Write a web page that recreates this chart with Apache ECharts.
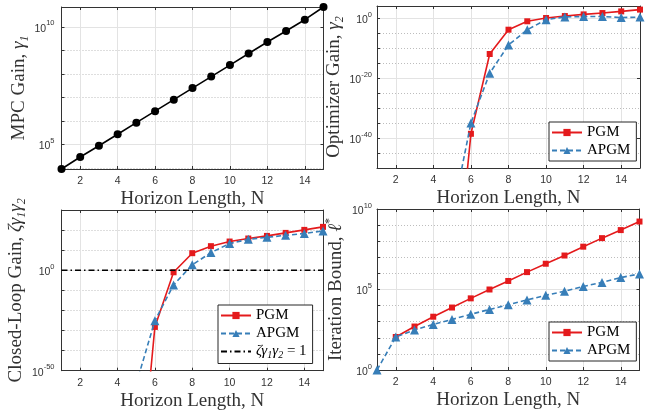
<!DOCTYPE html>
<html><head><meta charset="utf-8">
<script src="https://cdn.jsdelivr.net/npm/echarts@6/dist/echarts.min.js"></script>
<style>html,body{margin:0;padding:0;background:#fff}#c{width:665px;height:417px}</style>
</head><body><div id="c"></div>
<script>
// ---- data (log10 of the plotted quantities) ----
const horizon = [1, 2, 3, 4, 5, 6, 7, 8, 9, 10, 11, 12, 13, 14, 15];
const xTickValues = [2, 4, 6, 8, 10, 12, 14];

const mpcGainLog10 = [3.95, 4.46, 4.94, 5.43, 5.92, 6.41, 6.90, 7.39, 7.88, 8.37, 8.86, 9.35, 9.82, 10.30, 10.84];

const optGainPGMLog10  = [null, null, null, null, -102, -38.6, -12.0, -3.9, -1.1, 0.0, 0.65, 1.2, 1.65, 2.2, 2.8];
const optGainAPGMLog10 = [null, null, null, null, -66, -35.0, -18.4, -9.0, -3.9, -0.55, 0.35, 0.5, 0.5, 0.15, 0.3];

const clGainPGMLog10  = [null, null, null, null, -127, -28.2, -1.0, 8.5, 12.0, 14.3, 15.8, 17.1, 18.6, 20.1, 21.6];
const clGainAPGMLog10 = [null, null, null, null, -56.6, -25.1, -7.3, 2.7, 8.8, 13.3, 15.4, 16.4, 17.4, 18.3, 19.6];
const thresholdN = [1, 15];
const thresholdLog10 = [0, 0];

const iterPGMLog10  = [null, 2.05, 2.70, 3.31, 3.88, 4.45, 5.00, 5.53, 6.08, 6.60, 7.11, 7.66, 8.19, 8.69, 9.22];
const iterAPGMLog10 = [0, 2.05, 2.49, 2.83, 3.14, 3.46, 3.76, 4.05, 4.35, 4.64, 4.89, 5.19, 5.44, 5.74, 5.97];

// y tick exponents
const tlMajor = [5, 10];          const tlMinor = [4, 5, 6, 7, 8, 9, 10];
const trMajor = [-40, -20, 0];    const trMinor = [-50, -45, -40, -35, -30, -25, -20, -15, -10, -5, 0];
const blMajor = [-50, 0];         const blMinor = [-50, -40, -30, -20, -10, 0, 10, 20];
const brMajor = [0, 5, 10];       const brMinor = [0, 1, 2, 3, 4, 5, 6, 7, 8, 9, 10];

// ---- styling ----
const SERIF = "'Liberation Serif', 'DejaVu Serif', serif";
const SANS = "'Liberation Sans', Arial, sans-serif";
const AX = '#333333';
const RED = '#E41A1C', BLUE = '#377EB8';

const nameRich = {
  i: { fontFamily: SERIF, fontStyle: 'italic', fontSize: 19, lineHeight: 24, color: AX },
  sub: { fontFamily: SERIF, fontStyle: 'italic', fontSize: 12, lineHeight: 24, verticalAlign: 'bottom', color: AX },
  sup: { fontFamily: SERIF, fontSize: 12, lineHeight: 24, verticalAlign: 'top', color: AX }
};
const tickRich = {
  b: { fontFamily: SANS, fontSize: 10.5, lineHeight: 15, verticalAlign: 'bottom', color: AX },
  s: { fontFamily: SANS, fontSize: 7.5, lineHeight: 15, verticalAlign: 'top', color: AX }
};

const boxes = [
  { left: 61.5, top: 7, width: 262, height: 162 },
  { left: 377, top: 6, width: 263, height: 162 },
  { left: 61.5, top: 210, width: 261.5, height: 160.7 },
  { left: 377, top: 209, width: 262.5, height: 161 }
];
const yCfg = [
  { min: 3.95, max: 10.84, major: tlMajor, minor: tlMinor, name: 'MPC Gain, {i|γ}{sub|1}', gap: 28, lm: 7 },
  { min: -50, max: 4, major: trMajor, minor: trMinor, name: 'Optimizer Gain, {i|γ}{sub|2}', gap: 20, lm: 5 },
  { min: -50, max: 30, major: blMajor, minor: blMinor, name: 'Closed-Loop Gain, {i|ζγ}{sub|1}{i|γ}{sub|2}', gap: 32, lm: 7 },
  { min: 0, max: 10, major: brMajor, minor: brMinor, name: 'Iteration Bound, {i|ℓ}{sup|*}', gap: 23, lm: 5 }
];

const grid = [], xAxis = [], yAxis = [];
boxes.forEach((b, g) => {
  grid.push(Object.assign({ containLabel: false, outerBoundsMode: 'none', show: false }, b));
  xAxis.push({
    type: 'value', gridIndex: g, min: 1, max: 15, position: 'bottom',
    name: 'Horizon Length, N', nameLocation: 'middle', nameGap: 21,
    nameTextStyle: { fontFamily: SERIF, fontSize: 19, color: AX },
    axisLine: { show: true, onZero: false, lineStyle: { color: AX, width: 1 } },
    axisTick: { show: true, inside: true, length: 3, customValues: xTickValues, lineStyle: { color: AX } },
    axisLabel: { show: true, customValues: xTickValues, fontFamily: SANS, fontSize: 10.5, color: AX, margin: 7 },
    splitLine: { show: true, lineStyle: { color: '#e3e3e3', width: 1 } }
  });
  xAxis.push({
    type: 'value', gridIndex: g, min: 1, max: 15, position: 'top',
    axisLine: { show: true, onZero: false, lineStyle: { color: AX, width: 1 } },
    axisTick: { show: true, inside: true, length: 3, customValues: xTickValues, lineStyle: { color: AX } },
    axisLabel: { show: false }, splitLine: { show: false }
  });
  const c = yCfg[g];
  yAxis.push({
    type: 'value', gridIndex: g, min: c.min, max: c.max, position: 'left',
    name: c.name, nameLocation: 'middle', nameRotate: 90, nameGap: c.gap,
    nameTextStyle: { fontFamily: SERIF, fontSize: 19, lineHeight: 24, color: AX, rich: nameRich },
    axisLine: { show: true, onZero: false, lineStyle: { color: AX, width: 1 } },
    axisTick: { show: true, inside: true, length: 3, customValues: c.minor, lineStyle: { color: AX } },
    axisLabel: {
      show: true, customValues: c.major, margin: c.lm, rich: tickRich,
      formatter: v => '{b|10}{s|' + Math.round(v) + '}'
    },
    splitLine: { show: true, lineStyle: { color: '#bdbdbd', width: 1, type: [1, 2] } }
  });
  yAxis.push({
    type: 'value', gridIndex: g, min: c.min, max: c.max, position: 'right',
    axisLine: { show: true, onZero: false, lineStyle: { color: AX, width: 1 } },
    axisTick: { show: true, inside: true, length: 3, customValues: c.major, lineStyle: { color: AX } },
    axisLabel: { show: false },
    splitLine: { show: true, lineStyle: { color: '#e3e3e3', width: 1 } }
  });
});

function pts(xs, ys) { return xs.map((x, i) => [x, ys[i] == null ? '-' : ys[i]]); }
function pgm(g, ys) {
  return { name: 'PGM', type: 'line', xAxisIndex: 2 * g, yAxisIndex: 2 * g, data: pts(horizon, ys),
    symbol: 'rect', symbolSize: 6, color: RED, lineStyle: { color: RED, width: 1.6 },
    itemStyle: { color: RED }, clip: true, z: 3 };
}
function apgm(g, ys) {
  return { name: 'APGM', type: 'line', xAxisIndex: 2 * g, yAxisIndex: 2 * g, data: pts(horizon, ys),
    symbol: 'triangle', symbolSize: 9, color: BLUE, lineStyle: { color: BLUE, width: 1.6, type: [5, 3] },
    itemStyle: { color: BLUE }, clip: true, z: 4 };
}

const series = [
  { name: 'MPC', type: 'line', xAxisIndex: 0, yAxisIndex: 0, data: pts(horizon, mpcGainLog10),
    symbol: 'circle', symbolSize: 8, color: '#000', lineStyle: { color: '#000', width: 1.6 },
    itemStyle: { color: '#000' }, clip: false },
  pgm(1, optGainPGMLog10), apgm(1, optGainAPGMLog10),
  pgm(2, clGainPGMLog10), apgm(2, clGainAPGMLog10),
  { name: 'thr', type: 'line', xAxisIndex: 4, yAxisIndex: 4, data: pts(thresholdN, thresholdLog10),
    symbol: 'none', color: '#000', lineStyle: { color: '#000', width: 1.4, type: [6, 3, 1.5, 3] }, z: 5 },
  pgm(3, iterPGMLog10), apgm(3, iterAPGMLog10)
];

const legendBase = {
  orient: 'vertical', selectedMode: false, itemWidth: 30, itemHeight: 9, itemGap: 3,
  padding: [3, 6, 3, 2], borderColor: '#262626', borderWidth: 1, backgroundColor: '#fff',
  textStyle: { fontFamily: SERIF, fontSize: 15, color: '#000',
    rich: {
      i: { fontFamily: SERIF, fontStyle: 'italic', fontSize: 15, lineHeight: 18 },
      sub: { fontFamily: SERIF, fontStyle: 'italic', fontSize: 10, lineHeight: 18, verticalAlign: 'bottom' },
      n: { fontFamily: SERIF, fontSize: 15, lineHeight: 18 }
    } },
  formatter: n => n === 'thr' ? '{i|ζγ}{sub|1}{i|γ}{sub|2}{n| = 1}' : n
};
const legend = [
  Object.assign({}, legendBase, { data: ['PGM', 'APGM'], left: 549, top: 122 }),
  Object.assign({}, legendBase, { data: ['PGM', 'APGM',
    { name: 'thr', itemStyle: { color: 'rgba(0,0,0,0)', borderWidth: 0, opacity: 0 } }], left: 218, top: 305 }),
  Object.assign({}, legendBase, { data: ['PGM', 'APGM'], left: 549, top: 322 })
];

const chart = echarts.init(document.getElementById('c'), null, { renderer: 'canvas' });
chart.setOption({ animation: false, backgroundColor: '#fff', grid, xAxis, yAxis, series, legend });
</script>
</body></html>
